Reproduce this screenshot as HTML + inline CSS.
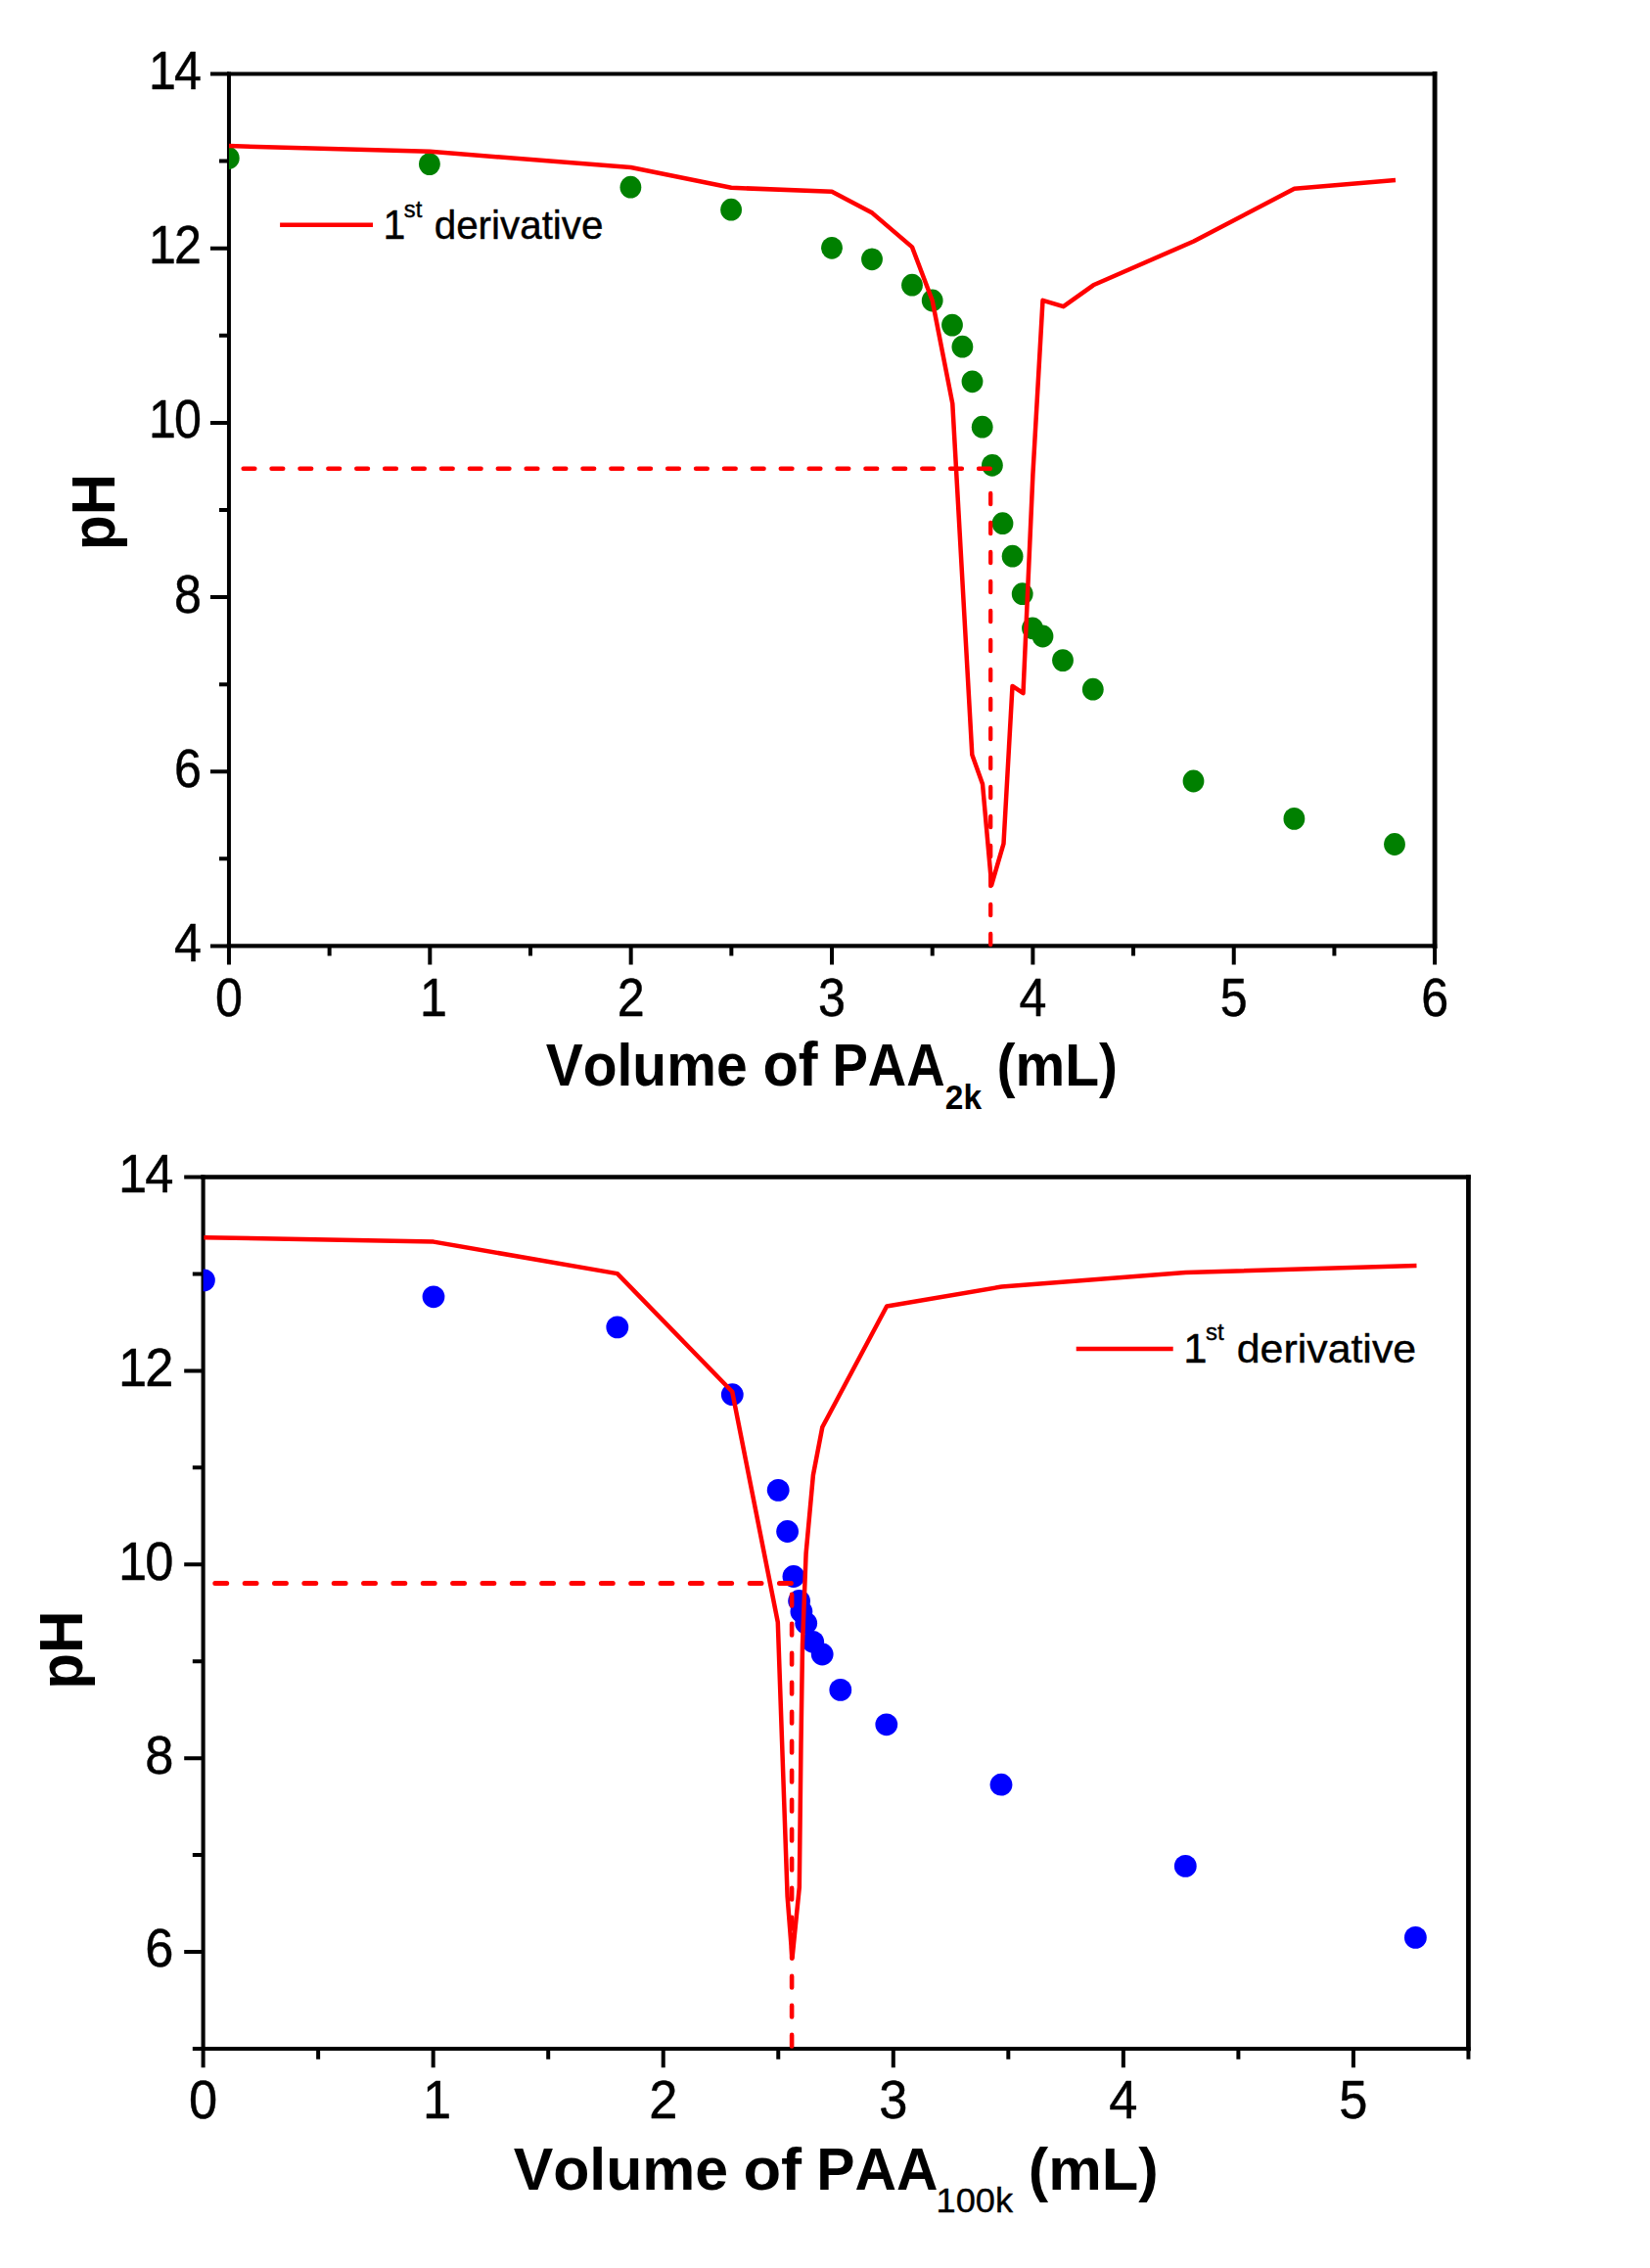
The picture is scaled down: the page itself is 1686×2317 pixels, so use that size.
<!DOCTYPE html>
<html lang="en">
<head>
<meta charset="utf-8">
<title>Titration curves: pH vs volume of PAA</title>
<style>
html,body{margin:0;padding:0;background:#fff;}
svg{display:block;font-kerning:none;}
</style>
</head>
<body>
<svg width="1686" height="2317" viewBox="0 0 1686 2317">
<rect width="1686" height="2317" fill="#fff"/>
<g id="chart1">
<path d="M233.95 75.5V966.45" stroke="#000" stroke-width="4" stroke-linecap="square" fill="none"/>
<path d="M233.95 75.5H1466.1" stroke="#000" stroke-width="4" stroke-linecap="square" fill="none"/>
<path d="M1466.1 75.5V966.45" stroke="#000" stroke-width="4.9" stroke-linecap="square" fill="none"/>
<path d="M233.95 966.45H1466.1" stroke="#000" stroke-width="4.2" stroke-linecap="square" fill="none"/>
<path d="M233.95 966.45H214.95M233.95 877.36H223.95M233.95 788.26H214.95M233.95 699.17H223.95M233.95 610.07H214.95M233.95 520.98H223.95M233.95 431.88H214.95M233.95 342.79H223.95M233.95 253.69H214.95M233.95 164.6H223.95M233.95 75.5H214.95M233.95 966.45V985.45M336.63 966.45V976.45M439.31 966.45V985.45M541.99 966.45V976.45M644.67 966.45V985.45M747.35 966.45V976.45M850.02 966.45V985.45M952.7 966.45V976.45M1055.38 966.45V985.45M1158.06 966.45V976.45M1260.74 966.45V985.45M1363.42 966.45V976.45M1466.1 966.45V985.45" stroke="#000" stroke-width="4" fill="none"/>
<g font-family='"Liberation Sans", sans-serif' fill="#000" stroke="#000" stroke-width="0.45" stroke-linejoin="round">
<text transform="translate(205.95 981.95) scale(0.92 1)" font-size="54.6" text-anchor="end">4</text>
<text transform="translate(205.95 803.76) scale(0.92 1)" font-size="54.6" text-anchor="end">6</text>
<text transform="translate(205.95 625.57) scale(0.92 1)" font-size="54.6" text-anchor="end">8</text>
<text transform="translate(205.95 447.38) scale(0.92 1)" font-size="54.6" text-anchor="end">1<tspan dx="-2.2">0</tspan></text>
<text transform="translate(205.95 269.19) scale(0.92 1)" font-size="54.6" text-anchor="end">1<tspan dx="-2.2">2</tspan></text>
<text transform="translate(205.95 91) scale(0.92 1)" font-size="54.6" text-anchor="end">1<tspan dx="-2.2">4</tspan></text>
<text transform="translate(233.95 1038.05) scale(0.92 1)" font-size="54.6" text-anchor="middle">0</text>
<text transform="translate(439.31 1038.05) scale(0.92 1)" font-size="54.6" text-anchor="middle"><tspan dx="4">1</tspan></text>
<text transform="translate(644.67 1038.05) scale(0.92 1)" font-size="54.6" text-anchor="middle">2</text>
<text transform="translate(850.02 1038.05) scale(0.92 1)" font-size="54.6" text-anchor="middle">3</text>
<text transform="translate(1055.38 1038.05) scale(0.92 1)" font-size="54.6" text-anchor="middle">4</text>
<text transform="translate(1260.74 1038.05) scale(0.92 1)" font-size="54.6" text-anchor="middle">5</text>
<text transform="translate(1466.1 1038.05) scale(0.92 1)" font-size="54.6" text-anchor="middle">6</text>
</g>
<clipPath id="clip1"><rect x="233.95" y="75.5" width="1232.15" height="890.95"/></clipPath>
<g clip-path="url(#clip1)">
<g fill="#008000">
<ellipse cx="233.8" cy="161.5" rx="10.9" ry="11.4"/>
<ellipse cx="438.9" cy="167.6" rx="10.9" ry="11.4"/>
<ellipse cx="644.4" cy="191.2" rx="10.9" ry="11.4"/>
<ellipse cx="747.1" cy="214.2" rx="10.9" ry="11.4"/>
<ellipse cx="850" cy="253.3" rx="10.9" ry="11.4"/>
<ellipse cx="891" cy="264.8" rx="10.9" ry="11.4"/>
<ellipse cx="932" cy="291.2" rx="10.9" ry="11.4"/>
<ellipse cx="952.7" cy="307" rx="10.9" ry="11.4"/>
<ellipse cx="973" cy="332.1" rx="10.9" ry="11.4"/>
<ellipse cx="983.4" cy="354.2" rx="10.9" ry="11.4"/>
<ellipse cx="993.5" cy="389.8" rx="10.9" ry="11.4"/>
<ellipse cx="1003.7" cy="436.2" rx="10.9" ry="11.4"/>
<ellipse cx="1013.9" cy="475.3" rx="10.9" ry="11.4"/>
<ellipse cx="1024.5" cy="534.7" rx="10.9" ry="11.4"/>
<ellipse cx="1034.6" cy="568.2" rx="10.9" ry="11.4"/>
<ellipse cx="1044.7" cy="606.7" rx="10.9" ry="11.4"/>
<ellipse cx="1055" cy="641.8" rx="10.9" ry="11.4"/>
<ellipse cx="1065.5" cy="650" rx="10.9" ry="11.4"/>
<ellipse cx="1086" cy="674.6" rx="10.9" ry="11.4"/>
<ellipse cx="1116.8" cy="704.2" rx="10.9" ry="11.4"/>
<ellipse cx="1219.5" cy="798" rx="10.9" ry="11.4"/>
<ellipse cx="1322.4" cy="836.4" rx="10.9" ry="11.4"/>
<ellipse cx="1425" cy="862.5" rx="10.9" ry="11.4"/>
</g>
<polyline points="233.8,149.1 439.2,154.8 644.6,171 747.2,191.8 850,195.8 891.3,217.6 932,252.4 952.7,307 973.3,412.4 993.3,770.9 1004,800.9 1013.2,904 1025.5,861.8 1034.5,700.9 1045.5,708.2 1055.4,485 1065.5,306.8 1086.6,313.2 1117.2,291.3 1219.8,246.5 1322.6,192.7 1426,184.1" fill="none" stroke="#f00" stroke-width="4.5" stroke-linejoin="round"/>
</g>
<path d="M248.65 478.7H260.35M277.55 478.7H289.25M306.45 478.7H318.15M335.35 478.7H347.05M364.25 478.7H375.95M393.15 478.7H404.85M422.05 478.7H433.75M450.95 478.7H462.65M479.85 478.7H491.55M508.75 478.7H520.45M537.65 478.7H549.35M566.55 478.7H578.25M595.45 478.7H607.15M624.35 478.7H636.05M653.25 478.7H664.95M682.15 478.7H693.85M711.05 478.7H722.75M739.95 478.7H751.65M768.85 478.7H780.55M797.75 478.7H809.45M826.65 478.7H838.35M855.55 478.7H867.25M884.45 478.7H896.15M913.35 478.7H925.05M942.25 478.7H953.95M971.15 478.7H982.85M1000.05 478.7H1011.75" stroke="#f00" stroke-width="4.5" stroke-linecap="round" fill="none"/>
<path d="M1012.2 953.95V965.15M1012.2 923.95V935.15M1012.2 893.95V905.15M1012.2 863.95V875.15M1012.2 833.95V845.15M1012.2 803.95V815.15M1012.2 773.95V785.15M1012.2 743.95V755.15M1012.2 713.95V725.15M1012.2 683.95V695.15M1012.2 653.95V665.15M1012.2 623.95V635.15M1012.2 593.95V605.15M1012.2 563.95V575.15M1012.2 533.95V545.15M1012.2 503.95V515.15" stroke="#f00" stroke-width="4.3" stroke-linecap="round" fill="none"/>
</g>
<g id="chart2">
<path d="M207.6 1202.5V2092.95" stroke="#000" stroke-width="4.1" stroke-linecap="square" fill="none"/>
<path d="M207.6 1202.5H1500.45" stroke="#000" stroke-width="4.6" stroke-linecap="square" fill="none"/>
<path d="M1500.45 1202.5V2092.95" stroke="#000" stroke-width="4.75" stroke-linecap="square" fill="none"/>
<path d="M207.6 2092.95H1500.45" stroke="#000" stroke-width="4" stroke-linecap="square" fill="none"/>
<path d="M207.6 2092.95H196.8M207.6 1994.01H188.2M207.6 1895.07H196.8M207.6 1796.13H188.2M207.6 1697.19H196.8M207.6 1598.26H188.2M207.6 1499.32H196.8M207.6 1400.38H188.2M207.6 1301.44H196.8M207.6 1202.5H188.2M207.6 2092.95V2112.35M325.13 2092.95V2103.75M442.66 2092.95V2112.35M560.2 2092.95V2103.75M677.73 2092.95V2112.35M795.26 2092.95V2103.75M912.79 2092.95V2112.35M1030.32 2092.95V2103.75M1147.85 2092.95V2112.35M1265.39 2092.95V2103.75M1382.92 2092.95V2112.35M1500.45 2092.95V2103.75" stroke="#000" stroke-width="4" fill="none"/>
<g font-family='"Liberation Sans", sans-serif' fill="#000" stroke="#000" stroke-width="0.45" stroke-linejoin="round">
<text transform="translate(177.3 2009.41) scale(0.95 1)" font-size="55.2" text-anchor="end">6</text>
<text transform="translate(177.3 1811.53) scale(0.95 1)" font-size="55.2" text-anchor="end">8</text>
<text transform="translate(177.3 1613.66) scale(0.95 1)" font-size="55.2" text-anchor="end">1<tspan dx="-2.2">0</tspan></text>
<text transform="translate(177.3 1415.78) scale(0.95 1)" font-size="55.2" text-anchor="end">1<tspan dx="-2.2">2</tspan></text>
<text transform="translate(177.3 1217.9) scale(0.95 1)" font-size="55.2" text-anchor="end">1<tspan dx="-2.2">4</tspan></text>
<text transform="translate(207.6 2164.15) scale(0.95 1)" font-size="55.2" text-anchor="middle">0</text>
<text transform="translate(442.66 2164.15) scale(0.95 1)" font-size="55.2" text-anchor="middle"><tspan dx="4">1</tspan></text>
<text transform="translate(677.73 2164.15) scale(0.95 1)" font-size="55.2" text-anchor="middle">2</text>
<text transform="translate(912.79 2164.15) scale(0.95 1)" font-size="55.2" text-anchor="middle">3</text>
<text transform="translate(1147.85 2164.15) scale(0.95 1)" font-size="55.2" text-anchor="middle">4</text>
<text transform="translate(1382.92 2164.15) scale(0.95 1)" font-size="55.2" text-anchor="middle">5</text>
</g>
<clipPath id="clip2"><rect x="207.6" y="1202.5" width="1292.85" height="890.45"/></clipPath>
<g clip-path="url(#clip2)">
<g fill="#0000ff">
<ellipse cx="208.4" cy="1307.9" rx="11.4" ry="11.4"/>
<ellipse cx="443" cy="1324.8" rx="11.4" ry="11.4"/>
<ellipse cx="630.8" cy="1355.9" rx="11.4" ry="11.4"/>
<ellipse cx="748.3" cy="1424.7" rx="11.4" ry="11.4"/>
<ellipse cx="795.2" cy="1522.4" rx="11.4" ry="11.4"/>
<ellipse cx="804.6" cy="1564.5" rx="11.4" ry="11.4"/>
<ellipse cx="810.9" cy="1610.5" rx="11.4" ry="11.4"/>
<ellipse cx="816.6" cy="1635.5" rx="11.4" ry="11.4"/>
<ellipse cx="818.9" cy="1646.4" rx="11.4" ry="11.4"/>
<ellipse cx="823.7" cy="1658.2" rx="11.4" ry="11.4"/>
<ellipse cx="830.7" cy="1677.3" rx="11.4" ry="11.4"/>
<ellipse cx="840.2" cy="1690" rx="11.4" ry="11.4"/>
<ellipse cx="858.8" cy="1726.4" rx="11.4" ry="11.4"/>
<ellipse cx="905.8" cy="1761.8" rx="11.4" ry="11.4"/>
<ellipse cx="1023" cy="1823.2" rx="11.4" ry="11.4"/>
<ellipse cx="1211.3" cy="1906.4" rx="11.4" ry="11.4"/>
<ellipse cx="1446.4" cy="1979.4" rx="11.4" ry="11.4"/>
</g>
<polyline points="208.4,1264.2 443,1268.6 630.8,1301.1 748.2,1421.8 794.8,1657.3 804.6,1937.3 809.5,2000.5 816.8,1928 818.5,1780 820,1680 823.6,1587 830.9,1507 840.3,1458 906.1,1334.5 1023.5,1314.5 1211.4,1300 1447.5,1293" fill="none" stroke="#f00" stroke-width="4.5" stroke-linejoin="round"/>
</g>
<path d="M219.8 1617.5H231.7M250.15 1617.5H262.05M280.5 1617.5H292.4M310.85 1617.5H322.75M341.2 1617.5H353.1M371.55 1617.5H383.45M401.9 1617.5H413.8M432.25 1617.5H444.15M462.6 1617.5H474.5M492.95 1617.5H504.85M523.3 1617.5H535.2M553.65 1617.5H565.55M584 1617.5H595.9M614.35 1617.5H626.25M644.7 1617.5H656.6M675.05 1617.5H686.95M705.4 1617.5H717.3M735.75 1617.5H747.65M766.1 1617.5H778M796.45 1617.5H808.35" stroke="#f00" stroke-width="5" stroke-linecap="round" fill="none"/>
<path d="M809.1 2078.9V2090.5M809.1 2048.9V2060.5M809.1 2018.9V2030.5M809.1 1988.9V2000.5M809.1 1958.9V1970.5M809.1 1928.9V1940.5M809.1 1898.9V1910.5M809.1 1868.9V1880.5M809.1 1838.9V1850.5M809.1 1808.9V1820.5M809.1 1778.9V1790.5M809.1 1748.9V1760.5M809.1 1718.9V1730.5M809.1 1688.9V1700.5M809.1 1658.9V1670.5M809.1 1628.9V1640.5" stroke="#f00" stroke-width="4.6" stroke-linecap="round" fill="none"/>
</g>
<g font-family='"Liberation Sans", sans-serif' fill="#000">
<path d="M286.1 229.8H381" stroke="#f00" stroke-width="4.5" fill="none"/>
<text transform="translate(391.62 243.9) scale(0.97 1)" font-size="42.4" text-anchor="start" stroke="#000" stroke-width="0.4" stroke-linejoin="round">1</text>
<text transform="translate(412.79 221.5) scale(1.01 1)" font-size="23.5" text-anchor="start" stroke="#000" stroke-width="0.4" stroke-linejoin="round">st</text>
<text transform="translate(443.68 243.7) scale(0.99 1)" font-size="40.8" text-anchor="start" stroke="#000" stroke-width="0.4" stroke-linejoin="round">derivative</text>
<path d="M1099.7 1377.9H1198.7" stroke="#f00" stroke-width="4.5" fill="none"/>
<text transform="translate(1209.33 1391.7) scale(1.03 1)" font-size="42.4" text-anchor="start" stroke="#000" stroke-width="0.4" stroke-linejoin="round">1</text>
<text transform="translate(1232.08 1369.2) scale(1.02 1)" font-size="23.5" text-anchor="start" stroke="#000" stroke-width="0.4" stroke-linejoin="round">st</text>
<text transform="translate(1263.79 1391.5) scale(1.05 1)" font-size="40.8" text-anchor="start" stroke="#000" stroke-width="0.4" stroke-linejoin="round">derivative</text>
<text transform="translate(116.7 562) rotate(-90) scale(0.92 1)" font-size="63.5" font-weight="bold" text-anchor="start">pH</text>
<text transform="translate(557.63 1109.4) scale(0.92 1)" font-size="62" font-weight="bold" text-anchor="start">Volume</text>
<text transform="translate(779.41 1109.4) scale(0.96 1)" font-size="62" font-weight="bold" text-anchor="start">of</text>
<text transform="translate(850.46 1109.4) scale(0.88 1)" font-size="62" font-weight="bold" text-anchor="start">PAA</text>
<text transform="translate(965.83 1133.4) scale(0.93 1)" font-size="36" font-weight="bold" text-anchor="start">2k</text>
<text transform="translate(1018.43 1109.4) scale(0.92 1)" font-size="62" font-weight="bold" text-anchor="start">(mL)</text>
<text transform="translate(83.8 1725.74) rotate(-90) scale(0.95 1)" font-size="63.5" font-weight="bold" text-anchor="start">pH</text>
<text transform="translate(524.69 2237) scale(0.98 1)" font-size="62" font-weight="bold" text-anchor="start">Volume</text>
<text transform="translate(759.46 2237) scale(1.02 1)" font-size="62" font-weight="bold" text-anchor="start">of</text>
<text transform="translate(834.17 2236.8) scale(0.95 1)" font-size="62" font-weight="bold" text-anchor="start">PAA</text>
<text transform="translate(956.58 2260.1) scale(1.02 1)" font-size="35.5" text-anchor="start" stroke="#000" stroke-width="0.4" stroke-linejoin="round">100k</text>
<text transform="translate(1050.73 2236.8) scale(0.99 1)" font-size="62" font-weight="bold" text-anchor="start">(mL)</text>
</g>
</svg>
</body>
</html>
